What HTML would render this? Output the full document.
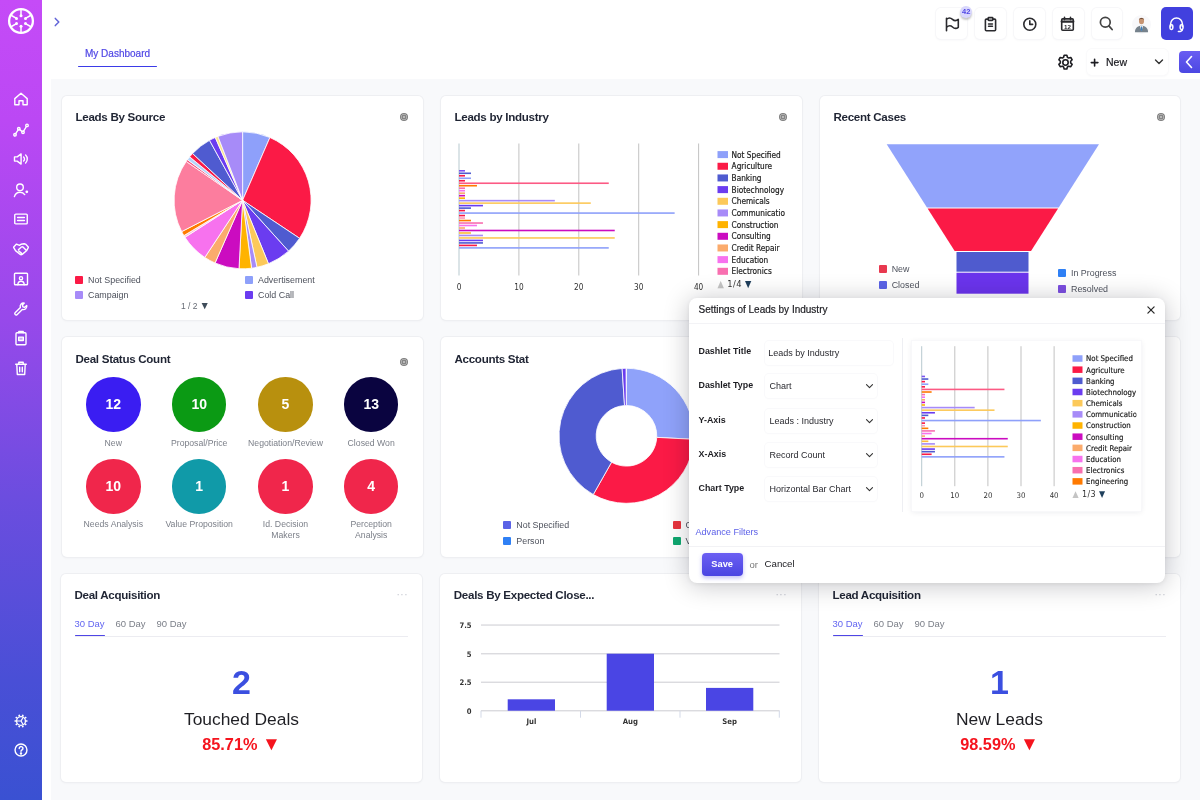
<!DOCTYPE html>
<html lang="en"><head><meta charset="utf-8"><title>My Dashboard</title>
<style>
*{box-sizing:border-box}
html,body{margin:0;padding:0}
body{width:1200px;height:800px;overflow:hidden;position:relative;background:#fff;font-family:"Liberation Sans",sans-serif;color:#1f2433}
.abs{position:absolute}
.sidebar{position:absolute;left:0;top:0;width:42.300px;height:800px;background:linear-gradient(180deg,#c54bf7 0%,#bb48f4 15%,#9749ea 40%,#6c4ddf 62%,#494fd6 85%,#3a51d2 100%)}
.sidebar svg{position:absolute;left:12px;width:18px;height:18px;fill:none;stroke:#fff;stroke-width:1.7;stroke-linecap:round;stroke-linejoin:round}
.content{position:absolute;left:51.300px;top:79.300px;width:1149px;height:721px;background:#f8f9fb}
.card{position:absolute;background:#fff;border-radius:5px;box-shadow:0 0 0 1px #eeeff2,0 1px 3px rgba(20,30,60,.05)}
.ctitle{position:absolute;left:14px;top:14px;font-weight:bold;font-size:11.600px;line-height:14px;color:#1f2433;white-space:nowrap;letter-spacing:-.3px}
.cgear{position:absolute;right:15px;top:16.900px;width:8px;height:8px;border-radius:50%;background:radial-gradient(circle,#b9b9b9 0 1px,#858585 1.400px 2.100px,#adadad 2.400px 2.900px,#7e7e7e 3.200px)}
.lg{position:absolute;font-size:8.900px;line-height:10px;color:#4d515c;white-space:nowrap}
.lg i{position:absolute;left:-13px;top:1px;width:8px;height:8px;border-radius:1px}
.tbtn{position:absolute;top:7.500px;width:30.800px;height:31.500px;border-radius:5px;background:#fff;box-shadow:0 0 0 1px #f7f7f9,0 1px 3px rgba(20,30,60,.05)}
.tbtn svg{position:absolute;left:6.700px;top:7.600px;width:17px;height:17px;fill:none;stroke:#2a2a2e;stroke-width:1.6;stroke-linecap:round;stroke-linejoin:round}
</style></head><body>
<div class="sidebar"><svg style="left:6.400px;top:5.600px;width:30px;height:30px;stroke-width:2.300" viewBox="0 0 30 30"><circle cx="15" cy="15" r="11.900"/><g stroke-width="1.500"><path d="M15.00 9.80L15.00 4.00"/><circle cx="15.00" cy="9.80" r="1.500" fill="#fff" stroke="none"/><path d="M19.50 12.40L24.53 9.50"/><circle cx="19.50" cy="12.40" r="1.500" fill="#fff" stroke="none"/><path d="M19.50 17.60L24.53 20.50"/><circle cx="19.50" cy="17.60" r="1.500" fill="#fff" stroke="none"/><path d="M15.00 20.20L15.00 26.00"/><circle cx="15.00" cy="20.20" r="1.500" fill="#fff" stroke="none"/><path d="M10.50 17.60L5.47 20.50"/><circle cx="10.50" cy="17.60" r="1.500" fill="#fff" stroke="none"/><path d="M10.50 12.40L5.47 9.50"/><circle cx="10.50" cy="12.40" r="1.500" fill="#fff" stroke="none"/></g></svg><svg viewBox="0 0 16 16" style="left:13px;top:91.1px;width:16px;height:16px;stroke-width:1.400"><path d="M1.800 7.600L8 2.200l6.200 5.400v6.200H10V9.800H6v4H1.800z"/></svg><svg viewBox="0 0 16 16" style="left:13px;top:121.5px;width:16px;height:16px;stroke-width:1.400"><circle cx="2" cy="12.800" r="1.250"/><circle cx="5.800" cy="6.800" r="1.250"/><circle cx="10" cy="10.300" r="1.250"/><circle cx="14" cy="3.400" r="1.250"/><path d="M2.700 11.700l2.400-3.800M6.800 7.600l2.200 1.900M10.600 9.200l2.800-4.700"/></svg><svg viewBox="0 0 16 16" style="left:13px;top:151.2px;width:16px;height:16px;stroke-width:1.400"><path d="M1.500 5.900h2.700l3.900-3v10.200l-3.900-3H1.500z"/><path d="M10.600 5.900a2.900 2.900 0 010 4.200M12.600 4a5.600 5.600 0 010 8"/></svg><svg viewBox="0 0 16 16" style="left:13px;top:181.7px;width:16px;height:16px;stroke-width:1.400"><circle cx="7" cy="5.300" r="3.300"/><path d="M1.400 14.600c.9-3 3-4.300 5.600-4.300 2.200 0 3.700.8 4.700 2.300"/><circle cx="13.800" cy="9.800" r="1.400" fill="#fff" stroke="none"/></svg><svg viewBox="0 0 16 16" style="left:13px;top:210.8px;width:16px;height:16px;stroke-width:1.400"><rect x="1.750" y="3.100" width="12.500" height="9.800" rx="1"/><path d="M4.600 6.500h6.800M4.600 9.500h6.800"/></svg><svg viewBox="0 0 16 16" style="left:13px;top:240.7px;width:16px;height:16px;stroke-width:1.400"><path d="M.5 6.200l3-3.100 3 1.300L8 3.300l3.200-.5 1.300.3 3 3.100-2 3.600-4.300 3.600q-1.200.7-2.300-.2L2.500 9.600z"/><path d="M5.400 8.700l3-2.700q.9-.5 1.600.1l3.200 3.200M7.300 11.600l1.500 1.200M5.900 10.100l2.500 2"/></svg><svg viewBox="0 0 16 16" style="left:13px;top:270.5px;width:16px;height:16px;stroke-width:1.400"><rect x="1.500" y="2.300" width="13" height="11.500" rx=".8"/><circle cx="8" cy="7.200" r="1.600"/><path d="M4.800 13.800c0-2.500 1.400-3.600 3.200-3.600s3.200 1.100 3.200 3.600"/></svg><svg viewBox="0 0 16 16" style="left:13px;top:301.3px;width:16px;height:16px;stroke-width:1.400"><path d="M13.700 4.500a3.300 3.300 0 01-4.400 3.900L4 13.700a1.350 1.350 0 01-1.900-1.900l5.300-5.300a3.300 3.300 0 013.900-4.400L9.400 4l.5 1.800 1.800.5z"/></svg><svg viewBox="0 0 16 16" style="left:13px;top:330.3px;width:16px;height:16px;stroke-width:1.400"><rect x="3" y="2.800" width="10" height="11.900" rx="1"/><path d="M5.800 2.800V1.400h4.400v1.400"/><rect x="5.700" y="7.100" width="4.600" height="3.400" fill="#fff" fill-opacity=".55"/></svg><svg viewBox="0 0 16 16" style="left:13px;top:359.5px;width:16px;height:16px;stroke-width:1.400"><path d="M2.700 4.300h10.600M5.800 4.300V2.200h4.400v2.100M3.800 4.300l.5 10.200h7.400l.5-10.200M6.700 7.200v4.600M9.300 7.200v4.600"/></svg><svg viewBox="0 0 18 18" style="left:13px;top:712.600px;width:16px;height:16px;stroke-width:1.500"><circle cx="9" cy="9" r="5"/><path d="M10.73 3.67L11.26 2.06M13.53 5.71L14.91 4.71M14.60 9.00L16.30 9.00M13.53 12.29L14.91 13.29M10.73 14.33L11.26 15.94M7.27 14.33L6.74 15.94M4.47 12.29L3.09 13.29M3.40 9.00L1.70 9.00M4.47 5.71L3.09 4.71M7.27 3.67L6.74 2.06" stroke-width="1.900" stroke-linecap="butt"/><path d="M9 9H4.600M9 9l2.400-3.900M9 9l2.400 3.900" stroke-width="1.400"/></svg><svg viewBox="0 0 18 18" style="left:13px;top:741.500px;width:16px;height:16px;stroke-width:1.600"><circle cx="9" cy="9" r="6.700"/><path d="M7 7.300a2.100 2.100 0 114 .8c-.5.900-2 1.100-2 2.400"/><circle cx="9" cy="13" r=".6" fill="#fff"/></svg></div><svg class="abs" style="left:53px;top:16px;width:8px;height:12px" viewBox="0 0 8 12" fill="none" stroke="#6265d8" stroke-width="1.500" stroke-linecap="round" stroke-linejoin="round"><path d="M2.300 2.400l3.500 3.600-3.500 3.600"/></svg><div class="abs" style="left:85px;top:47.800px;font-size:10px;line-height:12px;color:#4f46e5;white-space:nowrap;-webkit-text-stroke:.2px #4f46e5">My Dashboard</div><div class="abs" style="left:78px;top:65.500px;width:79px;height:1.700px;background:#3b3be8;border-radius:1px"></div><div class="tbtn" style="left:936.4px"><svg viewBox="0 0 17 17"><path d="M3.500 15.800V3.300M3.500 4.400C5.500 2.500 8 3 9.500 4.400S13.500 5.900 15.300 4.400V12.300C13.500 13.800 11 13.400 9.500 12S5.500 10.500 3.500 12.300"/></svg></div><div class="tbtn" style="left:975.2px"><svg viewBox="0 0 17 17"><rect x="3.400" y="4.100" width="10.200" height="11.600" rx="1"/><rect x="6.200" y="2.600" width="4.600" height="2.800" rx=".6" fill="#fff"/><path d="M6.500 9h4M6.500 11.300h4" stroke-width="1.400"/></svg></div><div class="tbtn" style="left:1014px"><svg viewBox="0 0 17 17"><circle cx="8.800" cy="9.200" r="6"/><path d="M8.800 5.900v3.500h2.800"/></svg></div><div class="tbtn" style="left:1052.8px"><svg viewBox="0 0 17 17"><rect x="2.700" y="3.900" width="11.600" height="11.300" rx="1"/><path d="M2.700 6.600h11.600" stroke-width="2.200"/><path d="M5.500 2.400v2.200M11.500 2.400v2.200"/><text x="8.500" y="13.600" font-size="6.200" font-weight="bold" text-anchor="middle" fill="#2a2a2e" stroke="none" font-family="Liberation Sans, sans-serif">12</text></svg></div><div class="tbtn" style="left:1091.6px"><svg viewBox="0 0 17 17"><circle cx="7.300" cy="7.200" r="4.900" stroke="#444" stroke-width="1.700"/><path d="M10.900 10.900l3.200 3.600" stroke="#444" stroke-width="1.800"/></svg></div><div class="abs" style="left:960.300px;top:5.800px;width:11.800px;height:11.800px;border-radius:50%;background:#d9d7fc;color:#4f46e5;font-size:7.500px;font-weight:bold;line-height:12px;text-align:center;box-shadow:0 2px 2px rgba(0,0,0,.22)">42</div><div class="abs" style="left:1132px;top:15px;width:19.400px;height:19.400px;border-radius:50%;background:#f8f8fa"></div><svg class="abs" style="left:1133.200px;top:15.800px;width:17px;height:17px" viewBox="0 0 22 22"><ellipse cx="11" cy="6.500" rx="3.300" ry="4.100" fill="#c69472"/><path d="M7.600 5.200c.2-3.600 6.600-3.600 6.800 0-.9-1.700-5.900-1.700-6.800 0z" fill="#6b4a36"/><path d="M2.500 21c0-5 3.300-8.300 8.500-8.300s8.500 3.300 8.500 8.300z" fill="#76828c"/><path d="M9 12.800l2 6.500 2-6.500z" fill="#eef2f5"/><path d="M10.400 13.600h1.200l.5 4.400-1.100 1.400-1.100-1.400z" fill="#3a7fc0"/></svg><div class="abs" style="left:1160.700px;top:7.300px;width:32.300px;height:32.400px;border-radius:5px;background:#4140de"><svg style="position:absolute;left:7.800px;top:8.600px;width:17px;height:17px" viewBox="0 0 18 18" fill="none" stroke="#fff" stroke-width="1.600" stroke-linecap="round" stroke-linejoin="round"><path d="M2.800 11V8.300a6.200 6.200 0 0112.400 0V11"/><rect x="2.100" y="9.200" width="3" height="5" rx="1.400"/><rect x="12.900" y="9.200" width="3" height="5" rx="1.400"/><path d="M15.200 14.200c0 1.600-1.500 2.200-4.200 2.200"/></svg></div><svg class="abs" style="left:1056px;top:53px;width:19px;height:19px" viewBox="0 0 24 24" fill="none" stroke="#1d1d22" stroke-width="2" stroke-linecap="round" stroke-linejoin="round"><circle cx="12" cy="12" r="3.400"/><path d="M10.300 2.800h3.400l.7 2.600 1.700 1 2.600-.7 1.700 2.900-1.900 1.900v2l1.900 1.900-1.700 2.900-2.600-.7-1.700 1-.7 2.600h-3.400l-.7-2.600-1.700-1-2.600.7-1.700-2.900 1.900-1.900v-2L3.600 8.600l1.700-2.900 2.600.7 1.700-1z"/></svg><div class="abs" style="left:1087px;top:49px;width:81px;height:26px;border-radius:5px;background:#fff;box-shadow:0 0 0 1px #fafafb,0 1px 3px rgba(20,30,60,.05)"></div><svg class="abs" style="left:1090px;top:57.500px;width:9px;height:9px" viewBox="0 0 9 9" stroke="#1d1d22" stroke-width="1.600" stroke-linecap="round"><path d="M4.600 1.300v6.600M1.300 4.600h6.600"/></svg><div class="abs" style="left:1106px;top:56px;font-size:10.500px;line-height:12px;color:#1d1d22;font-weight:500;-webkit-text-stroke:.2px #1d1d22">New</div><svg class="abs" style="left:1154px;top:58px;width:10px;height:8px" viewBox="0 0 10 8" fill="none" stroke="#333" stroke-width="1.400" stroke-linecap="round" stroke-linejoin="round"><path d="M1.500 2l3.500 3.500L8.500 2"/></svg><div class="abs" style="left:1179px;top:51px;width:21px;height:22px;border-radius:4px 0 0 4px;background:linear-gradient(180deg,#6a5df2,#4b47e2)"><svg style="position:absolute;left:5px;top:4px;width:10px;height:14px" viewBox="0 0 10 14" fill="none" stroke="#fff" stroke-width="1.600" stroke-linecap="round" stroke-linejoin="round"><path d="M7.500 1.500L2.500 7l5 5.500"/></svg></div><div class="content"></div><div class="card" style="left:62px;top:96px;width:361px;height:224px"><div class="ctitle" style="left:13.5px;top:14px">Leads By Source</div><div class="cgear" style="top:16.9px"></div><svg class="abs" style="left:0;top:0" width="361" height="224" stroke="#fff" stroke-width=".8" stroke-linejoin="round"><path d="M180.60,104.30L180.60,35.80A68.5,68.5 0 0 1 207.91,41.48Z" fill="#8ea0fa"/><path d="M180.60,104.30L207.91,41.48A68.5,68.5 0 0 1 237.59,142.31Z" fill="#fb1a46"/><path d="M180.60,104.30L237.59,142.31A68.5,68.5 0 0 1 226.52,155.13Z" fill="#4f5bd0"/><path d="M180.60,104.30L226.52,155.13A68.5,68.5 0 0 1 206.48,167.72Z" fill="#6b3cf0"/><path d="M180.60,104.30L206.48,167.72A68.5,68.5 0 0 1 194.96,171.28Z" fill="#fcc95a"/><path d="M180.60,104.30L194.96,171.28A68.5,68.5 0 0 1 189.54,172.21Z" fill="#a78bf8"/><path d="M180.60,104.30L189.54,172.21A68.5,68.5 0 0 1 177.01,172.71Z" fill="#ffb300"/><path d="M180.60,104.30L177.01,172.71A68.5,68.5 0 0 1 153.07,167.02Z" fill="#cb0cc0"/><path d="M180.60,104.30L153.07,167.02A68.5,68.5 0 0 1 142.79,161.42Z" fill="#fbab6c"/><path d="M180.60,104.30L142.79,161.42A68.5,68.5 0 0 1 122.96,141.31Z" fill="#f772ee"/><path d="M180.60,104.30L122.96,141.31A68.5,68.5 0 0 1 121.88,139.58Z" fill="#fbc0d8"/><path d="M180.60,104.30L121.88,139.58A68.5,68.5 0 0 1 119.67,135.61Z" fill="#ff7a00"/><path d="M180.60,104.30L119.67,135.61A68.5,68.5 0 0 1 124.22,65.40Z" fill="#fc7d9e"/><path d="M180.60,104.30L124.22,65.40A68.5,68.5 0 0 1 125.46,63.65Z" fill="#f8507a"/><path d="M180.60,104.30L125.46,63.65A68.5,68.5 0 0 1 127.67,60.82Z" fill="#b4d4fa"/><path d="M180.60,104.30L127.67,60.82A68.5,68.5 0 0 1 130.58,57.50Z" fill="#fb1a46"/><path d="M180.60,104.30L130.58,57.50A68.5,68.5 0 0 1 147.50,44.33Z" fill="#4f5bd0"/><path d="M180.60,104.30L147.50,44.33A68.5,68.5 0 0 1 153.29,41.48Z" fill="#6b3cf0"/><path d="M180.60,104.30L153.29,41.48A68.5,68.5 0 0 1 155.94,40.39Z" fill="#fde58a"/><path d="M180.60,104.30L155.94,40.39A68.5,68.5 0 0 1 180.60,35.80Z" fill="#a78bf8"/></svg><div class="lg" style="left:26px;top:178.500px"><i style="background:#fb1a46"></i>Not Specified</div><div class="lg" style="left:26px;top:194px"><i style="background:#a78bf8"></i>Campaign</div><div class="lg" style="left:196px;top:178.500px"><i style="background:#8ea0fa"></i>Advertisement</div><div class="lg" style="left:196px;top:194px"><i style="background:#6b3cf0"></i>Cold Call</div><div class="lg" style="left:119px;top:204.800px;font-size:8.500px;color:#666b75">1 / 2<span style="font-size:10.500px;line-height:0;color:#3f4d5a;margin-left:2px">▼</span></div></div><div class="card" style="left:441px;top:96px;width:361px;height:224px"><div class="ctitle" style="left:13.5px;top:14px">Leads by Industry</div><div class="cgear" style="top:16.9px"></div><svg class="abs" style="left:0;top:0" width="361" height="224"><rect x="17.50" y="47.5" width="1" height="132.0" fill="#b7c9cf"/><text x="18.00" y="194" font-size="8.2" text-anchor="middle" fill="#333" font-family="DejaVu Sans Condensed, DejaVu Sans, sans-serif">0</text><rect x="77.40" y="47.5" width="1" height="132.0" fill="#c2c2c2"/><text x="77.90" y="194" font-size="8.2" text-anchor="middle" fill="#333" font-family="DejaVu Sans Condensed, DejaVu Sans, sans-serif">10</text><rect x="137.30" y="47.5" width="1" height="132.0" fill="#c2c2c2"/><text x="137.80" y="194" font-size="8.2" text-anchor="middle" fill="#333" font-family="DejaVu Sans Condensed, DejaVu Sans, sans-serif">20</text><rect x="197.20" y="47.5" width="1" height="132.0" fill="#c2c2c2"/><text x="197.70" y="194" font-size="8.2" text-anchor="middle" fill="#333" font-family="DejaVu Sans Condensed, DejaVu Sans, sans-serif">30</text><rect x="257.10" y="47.5" width="1" height="132.0" fill="#c2c2c2"/><text x="257.60" y="194" font-size="8.2" text-anchor="middle" fill="#333" font-family="DejaVu Sans Condensed, DejaVu Sans, sans-serif">40</text><rect x="18.00" y="74.00" width="5.99" height="1.6" fill="#7c52f2"/><rect x="18.00" y="76.49" width="11.98" height="1.6" fill="#4f5bd0"/><rect x="18.00" y="78.97" width="5.99" height="1.6" fill="#fb1a46"/><rect x="18.00" y="81.46" width="11.98" height="1.6" fill="#8ea0fa"/><rect x="18.00" y="83.95" width="5.99" height="1.6" fill="#fb1a46"/><rect x="18.00" y="86.44" width="149.75" height="1.6" fill="#fc5a84"/><rect x="18.00" y="88.92" width="17.97" height="1.6" fill="#ff7a00"/><rect x="18.00" y="91.41" width="5.99" height="1.6" fill="#f86fb0"/><rect x="18.00" y="93.90" width="5.99" height="1.6" fill="#f772ee"/><rect x="18.00" y="96.38" width="5.99" height="1.6" fill="#fbab6c"/><rect x="18.00" y="98.87" width="5.99" height="1.6" fill="#cb0cc0"/><rect x="18.00" y="101.36" width="5.99" height="1.6" fill="#ffb300"/><rect x="18.00" y="103.84" width="95.84" height="1.6" fill="#a78bf8"/><rect x="18.00" y="106.33" width="131.78" height="1.6" fill="#fcc95a"/><rect x="18.00" y="108.82" width="23.96" height="1.6" fill="#6b3cf0"/><rect x="18.00" y="111.31" width="11.98" height="1.6" fill="#4f5bd0"/><rect x="18.00" y="113.79" width="5.99" height="1.6" fill="#fb1a46"/><rect x="18.00" y="116.28" width="215.64" height="1.6" fill="#8ea0fa"/><rect x="18.00" y="118.77" width="5.99" height="1.6" fill="#fb1a46"/><rect x="18.00" y="121.25" width="5.99" height="1.6" fill="#fb9ab8"/><rect x="18.00" y="123.74" width="11.98" height="1.6" fill="#ff7a00"/><rect x="18.00" y="126.23" width="23.96" height="1.6" fill="#f86fb0"/><rect x="18.00" y="128.71" width="17.97" height="1.6" fill="#f772ee"/><rect x="18.00" y="131.20" width="5.99" height="1.6" fill="#fbab6c"/><rect x="18.00" y="133.69" width="155.74" height="1.6" fill="#cb0cc0"/><rect x="18.00" y="136.18" width="11.98" height="1.6" fill="#fdbb3a"/><rect x="18.00" y="138.66" width="23.96" height="1.6" fill="#a78bf8"/><rect x="18.00" y="141.15" width="155.74" height="1.6" fill="#fcc95a"/><rect x="18.00" y="143.64" width="23.96" height="1.6" fill="#6b3cf0"/><rect x="18.00" y="146.12" width="23.96" height="1.6" fill="#4f5bd0"/><rect x="18.00" y="148.61" width="17.97" height="1.6" fill="#fb1a46"/><rect x="18.00" y="151.10" width="149.75" height="1.6" fill="#8ea0fa"/><clipPath id="cl361"><rect x="274.5" y="0" width="70" height="224"/></clipPath><g clip-path="url(#cl361)"><rect x="276.50" y="55.10" width="10.5" height="7" fill="#8ea0fa"/><text x="290.60" y="61.50" font-size="8.2" fill="#1c1c1c" stroke="#1c1c1c" stroke-width=".18" font-family="DejaVu Sans Condensed, DejaVu Sans, sans-serif">Not Specified</text><rect x="276.50" y="66.77" width="10.5" height="7" fill="#fb1a46"/><text x="290.60" y="73.17" font-size="8.2" fill="#1c1c1c" stroke="#1c1c1c" stroke-width=".18" font-family="DejaVu Sans Condensed, DejaVu Sans, sans-serif">Agriculture</text><rect x="276.50" y="78.44" width="10.5" height="7" fill="#4f5bd0"/><text x="290.60" y="84.84" font-size="8.2" fill="#1c1c1c" stroke="#1c1c1c" stroke-width=".18" font-family="DejaVu Sans Condensed, DejaVu Sans, sans-serif">Banking</text><rect x="276.50" y="90.11" width="10.5" height="7" fill="#6b3cf0"/><text x="290.60" y="96.51" font-size="8.2" fill="#1c1c1c" stroke="#1c1c1c" stroke-width=".18" font-family="DejaVu Sans Condensed, DejaVu Sans, sans-serif">Biotechnology</text><rect x="276.50" y="101.78" width="10.5" height="7" fill="#fcc95a"/><text x="290.60" y="108.18" font-size="8.2" fill="#1c1c1c" stroke="#1c1c1c" stroke-width=".18" font-family="DejaVu Sans Condensed, DejaVu Sans, sans-serif">Chemicals</text><rect x="276.50" y="113.45" width="10.5" height="7" fill="#a78bf8"/><text x="290.60" y="119.85" font-size="8.2" fill="#1c1c1c" stroke="#1c1c1c" stroke-width=".18" font-family="DejaVu Sans Condensed, DejaVu Sans, sans-serif">Communicatio</text><rect x="276.50" y="125.12" width="10.5" height="7" fill="#ffb300"/><text x="290.60" y="131.52" font-size="8.2" fill="#1c1c1c" stroke="#1c1c1c" stroke-width=".18" font-family="DejaVu Sans Condensed, DejaVu Sans, sans-serif">Construction</text><rect x="276.50" y="136.79" width="10.5" height="7" fill="#cb0cc0"/><text x="290.60" y="143.19" font-size="8.2" fill="#1c1c1c" stroke="#1c1c1c" stroke-width=".18" font-family="DejaVu Sans Condensed, DejaVu Sans, sans-serif">Consulting</text><rect x="276.50" y="148.46" width="10.5" height="7" fill="#fbab6c"/><text x="290.60" y="154.86" font-size="8.2" fill="#1c1c1c" stroke="#1c1c1c" stroke-width=".18" font-family="DejaVu Sans Condensed, DejaVu Sans, sans-serif">Credit Repair</text><rect x="276.50" y="160.13" width="10.5" height="7" fill="#f772ee"/><text x="290.60" y="166.53" font-size="8.2" fill="#1c1c1c" stroke="#1c1c1c" stroke-width=".18" font-family="DejaVu Sans Condensed, DejaVu Sans, sans-serif">Education</text><rect x="276.50" y="171.80" width="10.5" height="7" fill="#f86fb0"/><text x="290.60" y="178.20" font-size="8.2" fill="#1c1c1c" stroke="#1c1c1c" stroke-width=".18" font-family="DejaVu Sans Condensed, DejaVu Sans, sans-serif">Electronics</text></g><text x="276.50" y="191.4" font-size="9.299999999999999" fill="#333" letter-spacing=".4" font-family="DejaVu Sans Condensed, DejaVu Sans, sans-serif"><tspan fill="#c4c4c4" font-size="9.2">▲</tspan> 1/4 <tspan fill="#1f3f5c" font-size="9.2">▼</tspan></text></svg></div><div class="card" style="left:820px;top:96px;width:360px;height:224px"><div class="ctitle" style="left:13.5px;top:14px">Recent Cases</div><div class="cgear" style="top:16.9px"></div><svg class="abs" style="left:0;top:0" width="360" height="224"><path d="M66.70,48.30L279.00,48.30L238.74,111.50L106.96,111.50Z" fill="#91a3fb"/><path d="M107.60,112.50L238.10,112.50L211.03,155.00L134.67,155.00Z" fill="#fb1a46"/><rect x="136.5" y="156.00" width="72" height="19.700" fill="#4f5bce"/><rect x="136.5" y="176.70" width="72" height="21" fill="#6b34ec"/></svg><div class="lg" style="left:71.70000000000005px;top:168px"><i style="background:#e8384f"></i>New</div><div class="lg" style="left:71.70000000000005px;top:183.7px"><i style="background:#5a62e6"></i>Closed</div><div class="lg" style="left:251px;top:171.7px"><i style="background:#2f80f5"></i>In Progress</div><div class="lg" style="left:251px;top:187.7px"><i style="background:#7c4fe0"></i>Resolved</div></div><div class="card" style="left:62px;top:337px;width:361px;height:220px"><div class="ctitle" style="left:13.5px;top:15px">Deal Status Count</div><div class="cgear" style="top:20.6px"></div><div class="abs" style="left:24.0px;top:40.2px;width:54.600px;height:54.600px;border-radius:50%;background:#3a1df2;color:#fff;font-weight:bold;font-size:14px;line-height:55.500px;text-align:center">12</div><div class="abs" style="left:6.3px;top:100.5px;width:90px;text-align:center;font-size:8.700px;line-height:10.300px;color:#7b7f88">New</div><div class="abs" style="left:109.9px;top:40.2px;width:54.600px;height:54.600px;border-radius:50%;background:#0b9a14;color:#fff;font-weight:bold;font-size:14px;line-height:55.500px;text-align:center">10</div><div class="abs" style="left:92.2px;top:100.5px;width:90px;text-align:center;font-size:8.700px;line-height:10.300px;color:#7b7f88">Proposal/Price</div><div class="abs" style="left:196.2px;top:40.2px;width:54.600px;height:54.600px;border-radius:50%;background:#b8900e;color:#fff;font-weight:bold;font-size:14px;line-height:55.500px;text-align:center">5</div><div class="abs" style="left:178.5px;top:100.5px;width:90px;text-align:center;font-size:8.700px;line-height:10.300px;color:#7b7f88">Negotiation/Review</div><div class="abs" style="left:281.9px;top:40.2px;width:54.600px;height:54.600px;border-radius:50%;background:#0a0440;color:#fff;font-weight:bold;font-size:14px;line-height:55.500px;text-align:center">13</div><div class="abs" style="left:264.2px;top:100.5px;width:90px;text-align:center;font-size:8.700px;line-height:10.300px;color:#7b7f88">Closed Won</div><div class="abs" style="left:24.0px;top:122.0px;width:54.600px;height:54.600px;border-radius:50%;background:#f0264b;color:#fff;font-weight:bold;font-size:14px;line-height:55.500px;text-align:center">10</div><div class="abs" style="left:6.3px;top:182.3px;width:90px;text-align:center;font-size:8.700px;line-height:10.300px;color:#7b7f88">Needs Analysis</div><div class="abs" style="left:109.9px;top:122.0px;width:54.600px;height:54.600px;border-radius:50%;background:#109aa8;color:#fff;font-weight:bold;font-size:14px;line-height:55.500px;text-align:center">1</div><div class="abs" style="left:92.2px;top:182.3px;width:90px;text-align:center;font-size:8.700px;line-height:10.300px;color:#7b7f88">Value Proposition</div><div class="abs" style="left:196.2px;top:122.0px;width:54.600px;height:54.600px;border-radius:50%;background:#f0264b;color:#fff;font-weight:bold;font-size:14px;line-height:55.500px;text-align:center">1</div><div class="abs" style="left:178.5px;top:182.3px;width:90px;text-align:center;font-size:8.700px;line-height:10.300px;color:#7b7f88">Id. Decision<br>Makers</div><div class="abs" style="left:281.9px;top:122.0px;width:54.600px;height:54.600px;border-radius:50%;background:#f0264b;color:#fff;font-weight:bold;font-size:14px;line-height:55.500px;text-align:center">4</div><div class="abs" style="left:264.2px;top:182.3px;width:90px;text-align:center;font-size:8.700px;line-height:10.300px;color:#7b7f88">Perception<br>Analysis</div></div><div class="card" style="left:441px;top:337px;width:361px;height:220px"><div class="ctitle" style="left:13.5px;top:15px">Accounts Stat</div><div class="cgear" style="top:20.6px"></div><svg class="abs" style="left:0;top:0" width="361" height="220" stroke="#fff" stroke-width=".8" stroke-linejoin="round"><path d="M185.50,31.30A67.5,67.5 0 0 1 252.91,102.33L215.76,100.39A30.3,30.3 0 0 0 185.50,68.50Z" fill="#8fa2fa"/><path d="M252.91,102.33A67.5,67.5 0 0 1 152.26,157.55L170.58,125.17A30.3,30.3 0 0 0 215.76,100.39Z" fill="#fb1a46"/><path d="M152.26,157.55A67.5,67.5 0 0 1 181.14,31.44L183.54,68.56A30.3,30.3 0 0 0 170.58,125.17Z" fill="#4f5bd0"/><path d="M181.14,31.44A67.5,67.5 0 0 1 185.03,31.30L185.29,68.50A30.3,30.3 0 0 0 183.54,68.56Z" fill="#6b3cf0"/></svg><div class="lg" style="left:75.29999999999995px;top:183px"><i style="background:#5a62e6"></i>Not Specified</div><div class="lg" style="left:75.29999999999995px;top:199px"><i style="background:#2f80f5"></i>Person</div><div class="lg" style="left:244.5px;top:183px"><i style="background:#e8343e"></i>Customer</div><div class="lg" style="left:244.5px;top:199px"><i style="background:#10a870"></i>Vendor</div></div><div class="card" style="left:820px;top:337px;width:360px;height:220px"><div class="ctitle" style="left:13.5px;top:15px"></div><div class="cgear" style="top:20.6px"></div></div><div class="card" style="left:61px;top:574px;width:361px;height:208px"><div class="ctitle" style="left:13.5px;top:14px">Deal Acquisition</div><div class="abs" style="right:14px;top:14.500px;font-size:10px;line-height:12px;color:#c3c6cf;letter-spacing:.5px">···</div><div class="abs" style="left:14px;top:61.500px;width:333px;height:1px;background:#ececf1"></div><div class="abs" style="left:13.500px;top:44.300px;font-size:9.500px;line-height:11px;color:#6366f1;white-space:nowrap">30 Day</div><div class="abs" style="left:54.500px;top:44.300px;font-size:9.500px;line-height:11px;color:#7b7f88;white-space:nowrap">60 Day</div><div class="abs" style="left:95.500px;top:44.300px;font-size:9.500px;line-height:11px;color:#7b7f88;white-space:nowrap">90 Day</div><div class="abs" style="left:13.500px;top:60.700px;width:30.500px;height:1.800px;background:#4f46e5;border-radius:1px"></div><div class="abs" style="left:0;top:88px;width:361px;text-align:center;font-size:34px;line-height:40px;color:#3b4fe0;font-weight:bold;-webkit-text-stroke:0">2</div><div class="abs" style="left:0;top:135px;width:361px;text-align:center;font-size:17.400px;line-height:20px;color:#1f1f24">Touched Deals</div><div class="abs" style="left:0;top:160px;width:361px;text-align:center;font-size:16.300px;line-height:20px;color:#f5141e;font-weight:bold">85.71% <span style="font-size:19px;line-height:0;position:relative;top:.1px;font-weight:normal">▼</span></div></div><div class="card" style="left:440px;top:574px;width:361px;height:208px"><div class="ctitle" style="left:13.8px;top:14px">Deals By Expected Close...</div><div class="abs" style="right:14px;top:14.500px;font-size:10px;line-height:12px;color:#c3c6cf;letter-spacing:.5px">···</div><svg class="abs" style="left:0;top:0" width="361" height="208"><rect x="41" y="50.40" width="298.500" height="1.300" fill="#d7d7dc"/><text x="31.5" y="53.80" font-size="7.600" font-weight="bold" text-anchor="end" fill="#333" font-family="DejaVu Sans Condensed, DejaVu Sans, sans-serif">7.5</text><rect x="41" y="79.10" width="298.500" height="1.300" fill="#d7d7dc"/><text x="31.5" y="82.50" font-size="7.600" font-weight="bold" text-anchor="end" fill="#333" font-family="DejaVu Sans Condensed, DejaVu Sans, sans-serif">5</text><rect x="41" y="107.60" width="298.500" height="1.300" fill="#d7d7dc"/><text x="31.5" y="111.00" font-size="7.600" font-weight="bold" text-anchor="end" fill="#333" font-family="DejaVu Sans Condensed, DejaVu Sans, sans-serif">2.5</text><rect x="41" y="136.10" width="298.500" height="1.300" fill="#d7d7dc"/><text x="31.5" y="139.50" font-size="7.600" font-weight="bold" text-anchor="end" fill="#333" font-family="DejaVu Sans Condensed, DejaVu Sans, sans-serif">0</text><rect x="40.50" y="136.70" width="1" height="7" fill="#d3d9e8"/><rect x="140.00" y="136.70" width="1" height="7" fill="#d3d9e8"/><rect x="239.50" y="136.70" width="1" height="7" fill="#d3d9e8"/><rect x="338.80" y="136.70" width="1" height="7" fill="#d3d9e8"/><rect x="67.70" y="125.30" width="47.30" height="11.40" fill="#4a45e4"/><text x="91.35" y="150.30" font-size="7.700" font-weight="bold" text-anchor="middle" fill="#333" font-family="DejaVu Sans Condensed, DejaVu Sans, sans-serif">Jul</text><rect x="166.70" y="79.70" width="47.30" height="57.00" fill="#4a45e4"/><text x="190.35" y="150.30" font-size="7.700" font-weight="bold" text-anchor="middle" fill="#333" font-family="DejaVu Sans Condensed, DejaVu Sans, sans-serif">Aug</text><rect x="266.00" y="113.90" width="47.30" height="22.80" fill="#4a45e4"/><text x="289.65" y="150.30" font-size="7.700" font-weight="bold" text-anchor="middle" fill="#333" font-family="DejaVu Sans Condensed, DejaVu Sans, sans-serif">Sep</text></svg></div><div class="card" style="left:819px;top:574px;width:361px;height:208px"><div class="ctitle" style="left:13.5px;top:14px">Lead Acquisition</div><div class="abs" style="right:14px;top:14.500px;font-size:10px;line-height:12px;color:#c3c6cf;letter-spacing:.5px">···</div><div class="abs" style="left:14px;top:61.500px;width:333px;height:1px;background:#ececf1"></div><div class="abs" style="left:13.500px;top:44.300px;font-size:9.500px;line-height:11px;color:#6366f1;white-space:nowrap">30 Day</div><div class="abs" style="left:54.500px;top:44.300px;font-size:9.500px;line-height:11px;color:#7b7f88;white-space:nowrap">60 Day</div><div class="abs" style="left:95.500px;top:44.300px;font-size:9.500px;line-height:11px;color:#7b7f88;white-space:nowrap">90 Day</div><div class="abs" style="left:13.500px;top:60.700px;width:30.500px;height:1.800px;background:#4f46e5;border-radius:1px"></div><div class="abs" style="left:0;top:88px;width:361px;text-align:center;font-size:34px;line-height:40px;color:#3b4fe0;font-weight:bold;-webkit-text-stroke:0">1</div><div class="abs" style="left:0;top:135px;width:361px;text-align:center;font-size:17.400px;line-height:20px;color:#1f1f24">New Leads</div><div class="abs" style="left:0;top:160px;width:361px;text-align:center;font-size:16.300px;line-height:20px;color:#f5141e;font-weight:bold">98.59% <span style="font-size:19px;line-height:0;position:relative;top:.1px;font-weight:normal">▼</span></div></div><div class="abs" style="left:689px;top:297.7px;width:475.8px;height:285.3px;background:#fff;border-radius:8px;box-shadow:0 2px 26px rgba(10,10,20,.24),0 1px 4px rgba(10,10,20,.06)"><div class="abs" style="left:9.500px;top:6.300px;font-size:10px;line-height:11px;color:#1d1d22;white-space:nowrap;-webkit-text-stroke:.2px #1d1d22">Settings of Leads by Industry</div><svg class="abs" style="left:458px;top:8.800px;width:8px;height:8px" viewBox="0 0 9 9" stroke="#2a2a2a" stroke-width="1.400" stroke-linecap="round"><path d="M1 1l7 7M8 1l-7 7"/></svg><div class="abs" style="left:0;top:25.500px;width:100%;height:1px;background:#f3f3f6"></div><div class="abs" style="left:9.500px;top:48.3px;font-size:8.900px;line-height:11px;font-weight:bold;color:#1d1d22;white-space:nowrap">Dashlet Title</div><div class="abs" style="left:75.5px;top:43.5px;width:128px;height:24px;border-radius:4px;background:#fff;box-shadow:0 0 0 1px #f9f9fb,0 1px 2px rgba(20,30,60,.025)"></div><div class="abs" style="left:79.29999999999995px;top:50.0px;font-size:9px;line-height:11px;color:#2a2a30;white-space:nowrap">Leads by Industry</div><div class="abs" style="left:9.500px;top:82.7px;font-size:8.900px;line-height:11px;font-weight:bold;color:#1d1d22;white-space:nowrap">Dashlet Type</div><div class="abs" style="left:75.5px;top:76.6px;width:112px;height:24px;border-radius:4px;background:#fff;box-shadow:0 0 0 1px #f9f9fb,0 1px 2px rgba(20,30,60,.025)"></div><div class="abs" style="left:80.5px;top:83.1px;font-size:9px;line-height:11px;color:#2a2a30;white-space:nowrap">Chart</div><svg class="abs" style="left:175.5px;top:85.6px;width:9px;height:7px" viewBox="0 0 9 7" fill="none" stroke="#333" stroke-width="1.100" stroke-linecap="round" stroke-linejoin="round"><path d="M1.500 1.700l3 3 3-3"/></svg><div class="abs" style="left:9.500px;top:117.7px;font-size:8.900px;line-height:11px;font-weight:bold;color:#1d1d22;white-space:nowrap">Y-Axis</div><div class="abs" style="left:75.5px;top:111.8px;width:112px;height:24px;border-radius:4px;background:#fff;box-shadow:0 0 0 1px #f9f9fb,0 1px 2px rgba(20,30,60,.025)"></div><div class="abs" style="left:80.5px;top:118.3px;font-size:9px;line-height:11px;color:#2a2a30;white-space:nowrap">Leads : Industry</div><svg class="abs" style="left:175.5px;top:120.8px;width:9px;height:7px" viewBox="0 0 9 7" fill="none" stroke="#333" stroke-width="1.100" stroke-linecap="round" stroke-linejoin="round"><path d="M1.500 1.700l3 3 3-3"/></svg><div class="abs" style="left:9.500px;top:151.3px;font-size:8.900px;line-height:11px;font-weight:bold;color:#1d1d22;white-space:nowrap">X-Axis</div><div class="abs" style="left:75.5px;top:145.8px;width:112px;height:24px;border-radius:4px;background:#fff;box-shadow:0 0 0 1px #f9f9fb,0 1px 2px rgba(20,30,60,.025)"></div><div class="abs" style="left:80.5px;top:152.3px;font-size:9px;line-height:11px;color:#2a2a30;white-space:nowrap">Record Count</div><svg class="abs" style="left:175.5px;top:154.8px;width:9px;height:7px" viewBox="0 0 9 7" fill="none" stroke="#333" stroke-width="1.100" stroke-linecap="round" stroke-linejoin="round"><path d="M1.500 1.700l3 3 3-3"/></svg><div class="abs" style="left:9.500px;top:185.2px;font-size:8.900px;line-height:11px;font-weight:bold;color:#1d1d22;white-space:nowrap">Chart Type</div><div class="abs" style="left:75.5px;top:179.8px;width:112px;height:24px;border-radius:4px;background:#fff;box-shadow:0 0 0 1px #f9f9fb,0 1px 2px rgba(20,30,60,.025)"></div><div class="abs" style="left:80.5px;top:186.3px;font-size:9px;line-height:11px;color:#2a2a30;white-space:nowrap">Horizontal Bar Chart</div><svg class="abs" style="left:175.5px;top:188.8px;width:9px;height:7px" viewBox="0 0 9 7" fill="none" stroke="#333" stroke-width="1.100" stroke-linecap="round" stroke-linejoin="round"><path d="M1.500 1.700l3 3 3-3"/></svg><div class="abs" style="left:212.5px;top:40.30000000000001px;width:1px;height:174px;background:#eeeff3"></div><div class="abs" style="left:223px;top:43.1px;width:229.3px;height:170px;background:#fff;box-shadow:0 0 0 1px #f8f8fa,0 1px 6px rgba(20,30,60,.09)"><svg class="abs" style="left:0;top:0" width="229.3" height="170"><rect x="9.20" y="5.199999999999989" width="1" height="140.0" fill="#b7c9cf"/><text x="9.70" y="156.7" font-size="7.8" text-anchor="middle" fill="#333" font-family="DejaVu Sans Condensed, DejaVu Sans, sans-serif">0</text><rect x="42.30" y="5.199999999999989" width="1" height="140.0" fill="#c2c2c2"/><text x="42.80" y="156.7" font-size="7.8" text-anchor="middle" fill="#333" font-family="DejaVu Sans Condensed, DejaVu Sans, sans-serif">10</text><rect x="75.40" y="5.199999999999989" width="1" height="140.0" fill="#c2c2c2"/><text x="75.90" y="156.7" font-size="7.8" text-anchor="middle" fill="#333" font-family="DejaVu Sans Condensed, DejaVu Sans, sans-serif">20</text><rect x="108.50" y="5.199999999999989" width="1" height="140.0" fill="#c2c2c2"/><text x="109.00" y="156.7" font-size="7.8" text-anchor="middle" fill="#333" font-family="DejaVu Sans Condensed, DejaVu Sans, sans-serif">30</text><rect x="141.60" y="5.199999999999989" width="1" height="140.0" fill="#c2c2c2"/><text x="142.10" y="156.7" font-size="7.8" text-anchor="middle" fill="#333" font-family="DejaVu Sans Condensed, DejaVu Sans, sans-serif">40</text><rect x="9.70" y="34.65" width="3.31" height="1.6" fill="#7c52f2"/><rect x="9.70" y="37.24" width="6.62" height="1.6" fill="#4f5bd0"/><rect x="9.70" y="39.84" width="3.31" height="1.6" fill="#fb1a46"/><rect x="9.70" y="42.43" width="6.62" height="1.6" fill="#8ea0fa"/><rect x="9.70" y="45.03" width="3.31" height="1.6" fill="#fb1a46"/><rect x="9.70" y="47.62" width="82.75" height="1.6" fill="#fc5a84"/><rect x="9.70" y="50.21" width="9.93" height="1.6" fill="#ff7a00"/><rect x="9.70" y="52.81" width="3.31" height="1.6" fill="#f86fb0"/><rect x="9.70" y="55.40" width="3.31" height="1.6" fill="#f772ee"/><rect x="9.70" y="58.00" width="3.31" height="1.6" fill="#fbab6c"/><rect x="9.70" y="60.59" width="3.31" height="1.6" fill="#cb0cc0"/><rect x="9.70" y="63.18" width="3.31" height="1.6" fill="#ffb300"/><rect x="9.70" y="65.78" width="52.96" height="1.6" fill="#a78bf8"/><rect x="9.70" y="68.37" width="72.82" height="1.6" fill="#fcc95a"/><rect x="9.70" y="70.97" width="13.24" height="1.6" fill="#6b3cf0"/><rect x="9.70" y="73.56" width="6.62" height="1.6" fill="#4f5bd0"/><rect x="9.70" y="76.15" width="3.31" height="1.6" fill="#fb1a46"/><rect x="9.70" y="78.75" width="119.16" height="1.6" fill="#8ea0fa"/><rect x="9.70" y="81.34" width="3.31" height="1.6" fill="#fb1a46"/><rect x="9.70" y="83.94" width="3.31" height="1.6" fill="#fb9ab8"/><rect x="9.70" y="86.53" width="6.62" height="1.6" fill="#ff7a00"/><rect x="9.70" y="89.12" width="13.24" height="1.6" fill="#f86fb0"/><rect x="9.70" y="91.72" width="9.93" height="1.6" fill="#f772ee"/><rect x="9.70" y="94.31" width="3.31" height="1.6" fill="#fbab6c"/><rect x="9.70" y="96.91" width="86.06" height="1.6" fill="#cb0cc0"/><rect x="9.70" y="99.50" width="6.62" height="1.6" fill="#fdbb3a"/><rect x="9.70" y="102.09" width="13.24" height="1.6" fill="#a78bf8"/><rect x="9.70" y="104.69" width="86.06" height="1.6" fill="#fcc95a"/><rect x="9.70" y="107.28" width="13.24" height="1.6" fill="#6b3cf0"/><rect x="9.70" y="109.88" width="13.24" height="1.6" fill="#4f5bd0"/><rect x="9.70" y="112.47" width="9.93" height="1.6" fill="#fb1a46"/><rect x="9.70" y="115.06" width="82.75" height="1.6" fill="#8ea0fa"/><clipPath id="cl229"><rect x="158.5" y="0" width="66" height="170"/></clipPath><g clip-path="url(#cl229)"><rect x="160.50" y="14.25" width="10" height="6.5" fill="#8ea0fa"/><text x="174.10" y="20.40" font-size="7.8" fill="#1c1c1c" stroke="#1c1c1c" stroke-width=".18" font-family="DejaVu Sans Condensed, DejaVu Sans, sans-serif">Not Specified</text><rect x="160.50" y="25.42" width="10" height="6.5" fill="#fb1a46"/><text x="174.10" y="31.57" font-size="7.8" fill="#1c1c1c" stroke="#1c1c1c" stroke-width=".18" font-family="DejaVu Sans Condensed, DejaVu Sans, sans-serif">Agriculture</text><rect x="160.50" y="36.59" width="10" height="6.5" fill="#4f5bd0"/><text x="174.10" y="42.74" font-size="7.8" fill="#1c1c1c" stroke="#1c1c1c" stroke-width=".18" font-family="DejaVu Sans Condensed, DejaVu Sans, sans-serif">Banking</text><rect x="160.50" y="47.76" width="10" height="6.5" fill="#6b3cf0"/><text x="174.10" y="53.91" font-size="7.8" fill="#1c1c1c" stroke="#1c1c1c" stroke-width=".18" font-family="DejaVu Sans Condensed, DejaVu Sans, sans-serif">Biotechnology</text><rect x="160.50" y="58.93" width="10" height="6.5" fill="#fcc95a"/><text x="174.10" y="65.08" font-size="7.8" fill="#1c1c1c" stroke="#1c1c1c" stroke-width=".18" font-family="DejaVu Sans Condensed, DejaVu Sans, sans-serif">Chemicals</text><rect x="160.50" y="70.10" width="10" height="6.5" fill="#a78bf8"/><text x="174.10" y="76.25" font-size="7.8" fill="#1c1c1c" stroke="#1c1c1c" stroke-width=".18" font-family="DejaVu Sans Condensed, DejaVu Sans, sans-serif">Communicatio</text><rect x="160.50" y="81.27" width="10" height="6.5" fill="#ffb300"/><text x="174.10" y="87.42" font-size="7.8" fill="#1c1c1c" stroke="#1c1c1c" stroke-width=".18" font-family="DejaVu Sans Condensed, DejaVu Sans, sans-serif">Construction</text><rect x="160.50" y="92.44" width="10" height="6.5" fill="#cb0cc0"/><text x="174.10" y="98.59" font-size="7.8" fill="#1c1c1c" stroke="#1c1c1c" stroke-width=".18" font-family="DejaVu Sans Condensed, DejaVu Sans, sans-serif">Consulting</text><rect x="160.50" y="103.61" width="10" height="6.5" fill="#fbab6c"/><text x="174.10" y="109.76" font-size="7.8" fill="#1c1c1c" stroke="#1c1c1c" stroke-width=".18" font-family="DejaVu Sans Condensed, DejaVu Sans, sans-serif">Credit Repair</text><rect x="160.50" y="114.78" width="10" height="6.5" fill="#f772ee"/><text x="174.10" y="120.93" font-size="7.8" fill="#1c1c1c" stroke="#1c1c1c" stroke-width=".18" font-family="DejaVu Sans Condensed, DejaVu Sans, sans-serif">Education</text><rect x="160.50" y="125.95" width="10" height="6.5" fill="#f86fb0"/><text x="174.10" y="132.10" font-size="7.8" fill="#1c1c1c" stroke="#1c1c1c" stroke-width=".18" font-family="DejaVu Sans Condensed, DejaVu Sans, sans-serif">Electronics</text><rect x="160.50" y="137.12" width="10" height="6.5" fill="#ff7a00"/><text x="174.10" y="143.27" font-size="7.8" fill="#1c1c1c" stroke="#1c1c1c" stroke-width=".18" font-family="DejaVu Sans Condensed, DejaVu Sans, sans-serif">Engineering</text></g><text x="160.50" y="155.69999999999996" font-size="8.9" fill="#333" letter-spacing=".4" font-family="DejaVu Sans Condensed, DejaVu Sans, sans-serif"><tspan fill="#c4c4c4" font-size="8.8">▲</tspan> 1/3 <tspan fill="#1f3f5c" font-size="8.8">▼</tspan></text></svg></div><div class="abs" style="left:6.5px;top:229.3px;font-size:9.100px;line-height:11px;color:#5b5fe8;white-space:nowrap">Advance Filters</div><div class="abs" style="left:0;top:248.3px;width:100%;height:1px;background:#f2f2f5"></div><div class="abs" style="left:12.700000000000045px;top:255.6px;width:41px;height:22.500px;border-radius:4px;background:linear-gradient(180deg,#6c5ff3,#4a45e2);box-shadow:0 2px 4px rgba(74,69,226,.35);color:#fff;font-size:9.300px;font-weight:bold;line-height:22.500px;text-align:center">Save</div><div class="abs" style="left:60.5px;top:261.0px;font-size:9.500px;line-height:11px;color:#777;white-space:nowrap">or</div><div class="abs" style="left:75.5px;top:260.8px;font-size:9.700px;line-height:11px;color:#1d1d22;white-space:nowrap">Cancel</div></div></body></html>
